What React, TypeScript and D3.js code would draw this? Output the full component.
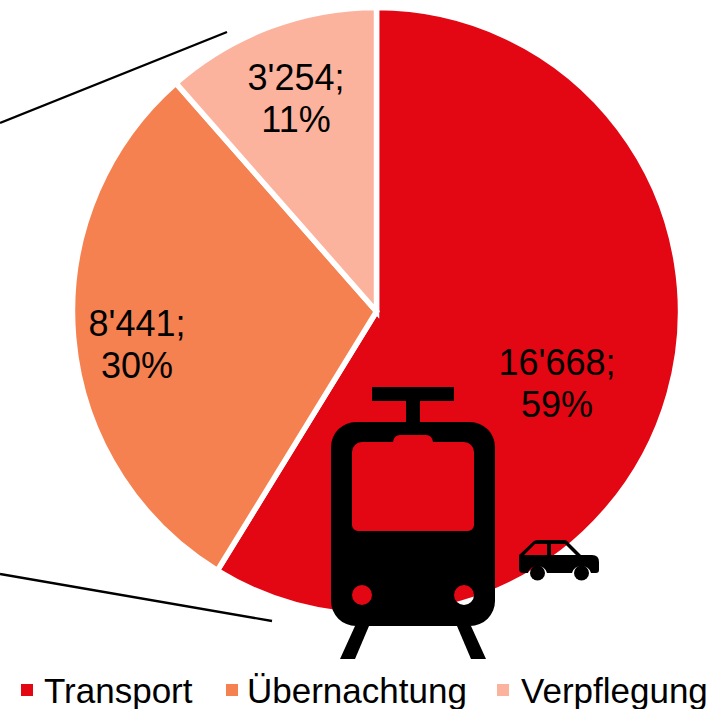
import React from "react";
import { arc, pie, scaleOrdinal } from "d3";

const width = 708;
const height = 709;
const centerX = 376.5;
const centerY = 311.5;
const radius = 304;

const categories = ["Transport", "Übernachtung", "Verpflegung"];
const values = [16668, 8441, 3254];
const valueLabels = ["16'668;", "8'441;", "3'254;"];
const percentLabels = ["59%", "30%", "11%"];
const colors = ["#E30613", "#F58151", "#FBB39E"];

// where the labels sit, in page pixels
const labelCenters = [
  [557, 390],
  [137, 351],
  [296, 105],
];
const legendSwatchX = [21, 226, 497];
const legendTextX = [44, 247, 521];

const color = scaleOrdinal<string, string>().domain(categories).range(colors);

const slices = pie<number>().sort(null)(values);
const sliceArc = arc<any>().innerRadius(0).outerRadius(radius);

const labelFont = "'Liberation Sans', Arial, sans-serif";

const trainPath = [
  // body
  "M356 422H470A25 25 0 0 1 495 447V601A25 25 0 0 1 470 626H356A25 25 0 0 1 331 601V447A25 25 0 0 1 356 422Z",
  // window with the small bump on top
  "M362 442H393Q394 435 400 435H426Q432 435 433 442H464A10 10 0 0 1 474 452V525A6 6 0 0 1 468 531H358A6 6 0 0 1 352 525V452A10 10 0 0 1 362 442Z",
  // lights
  "M352 595a10 10 0 1 0 20 0a10 10 0 1 0 -20 0Z",
  "M454 595a10 10 0 1 0 20 0a10 10 0 1 0 -20 0Z",
].join("");

const carPath = [
  // body with wheel arches
  "M519 555L534 541Q536 540 538 540H564Q566 540 567 541L581 555H592Q599 555 599 562V570Q599 573 596 573H591A10 10 0 0 0 572 573H547A10 10 0 0 0 528 573H523Q519 573 519 569Z",
  // windows
  "M524 555L535 544H547V555Z",
  "M551 544H565L576 555H551Z",
].join("");

const App = () => (
  <svg
    width={width}
    height={height}
    style={{ position: "absolute", left: 0, top: 0, display: "block" }}
  >
    <rect width={width} height={height} fill="#fff" />

    <g transform={`translate(${centerX}, ${centerY})`}>
      {slices.map((d, i) => (
        <path
          key={categories[i]}
          d={sliceArc(d) as string}
          fill={color(categories[i])}
          stroke="#fff"
          strokeWidth="5.5"
        />
      ))}
    </g>

    {/* connector lines to the previous chart */}
    <line x1="0" y1="123" x2="227" y2="32" stroke="#000" strokeWidth="2.4" />
    <line x1="0" y1="574" x2="272" y2="621" stroke="#000" strokeWidth="2.4" />

    {/* train icon */}
    <rect x="372" y="387" width="82" height="14" fill="#000" />
    <rect x="406" y="401" width="14" height="22" fill="#000" />
    <path d={trainPath} fill="#000" fillRule="evenodd" />
    <path d="M355 626H369L355 659H340Z" fill="#000" />
    <path d="M457 626H471L486 659H471Z" fill="#000" />

    {/* car icon */}
    <path d={carPath} fill="#000" fillRule="evenodd" />
    <circle cx="537.5" cy="573" r="7.5" fill="#000" />
    <circle cx="581.5" cy="573" r="7.5" fill="#000" />

    {categories.map((c, i) => (
      <text
        key={c}
        textAnchor="middle"
        fontFamily={labelFont}
        fontSize="36"
        fill="#000"
      >
        <tspan x={labelCenters[i][0]} y={labelCenters[i][1] - 15}>
          {valueLabels[i]}
        </tspan>
        <tspan x={labelCenters[i][0]} y={labelCenters[i][1] + 27}>
          {percentLabels[i]}
        </tspan>
      </text>
    ))}

    {categories.map((c, i) => (
      <g key={c}>
        <rect
          x={legendSwatchX[i]}
          y="684"
          width="12"
          height="12"
          fill={color(c)}
        />
        <text
          x={legendTextX[i]}
          y="703"
          fontFamily={labelFont}
          fontSize="35"
          fill="#000"
        >
          {c}
        </text>
      </g>
    ))}
  </svg>
);

export default App;
